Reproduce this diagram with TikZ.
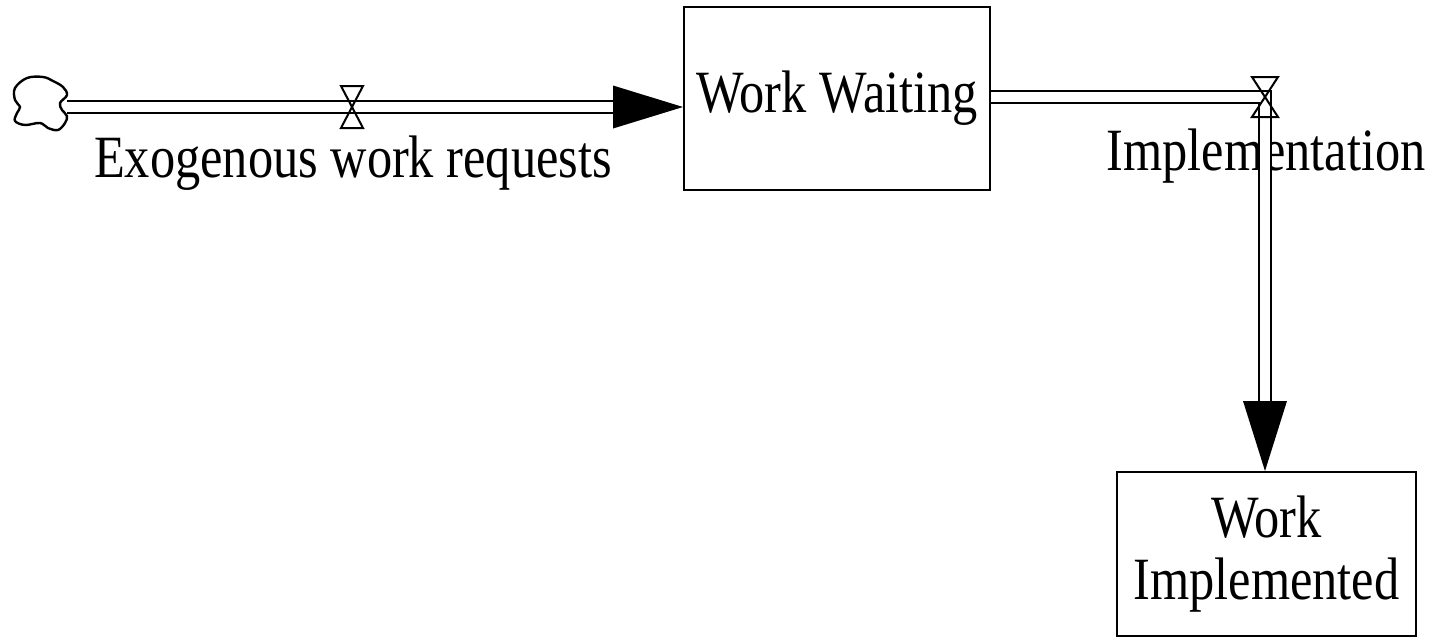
\documentclass[tikz,border=0pt]{standalone}
\usepackage{fontspec}
\setmainfont{Liberation Serif}
\newfontfamily\condserif[FakeStretch=0.84]{Liberation Serif}
\usetikzlibrary{calc}
\begin{document}
\begin{tikzpicture}[x=0.5pt,y=-0.5pt,line join=miter,
  every node/.style={font=\condserif\fontsize{30pt}{31pt}\selectfont},
  stock/.style={draw,line width=1pt,rectangle,inner sep=0pt,align=center},
  pipeline/.style={draw,line width=1pt,double,double distance=5pt},
  lbl/.style={inner sep=0pt,anchor=base},
  valve/.style={draw,line width=1pt},
  cloudline/.style={draw,line width=1.2pt}]
  \useasboundingbox (0,0) rectangle (1431,637);

  % stocks
  \node[stock,minimum width=153pt,minimum height=91.5pt] (ww) at (837,98.5) {Work Waiting};
  \node[stock,minimum width=149.5pt,minimum height=82pt] (wi) at (1266.5,554) {Work\\Implemented};

  % source cloud and valve positions
  \coordinate (src) at (67,107);
  \coordinate (v1) at (352,107);
  \coordinate (v2) at (1265,97);
  \coordinate (t1) at (ww.west |- src);
  \coordinate (t2) at (v2 |- wi.north);

  \draw[cloudline] plot[smooth cycle,tension=0.6] coordinates {
    (15,88) (27,78) (43,77) (53,81) (63,87) (67,95) (60,103)
    (62,110) (67,116) (65,123) (58,130) (48,128) (40,123)
    (25,125) (15,121) (17,113) (20,107) (15,100)};

  % flow labels
  \node[lbl] (lexo) at (353,177) {Exogenous work requests};
  \node[lbl] (limp) at (1266,170) {Implementation};

  % inflow pipe
  \draw[pipeline] (src) -- ([xshift=-35pt]t1);
  \fill (t1) -- ++(-70,-21.5) -- ++(0,43) -- cycle;

  % outflow pipe
  \draw[pipeline] (ww.east |- v2) -- (v2) -- ([yshift=35pt]t2);
  \fill (t2) -- ++(-22,-70) -- ++(44,0) -- cycle;

  % valves
  \draw[valve] ($(v1)+(-11,-21)$) -- ++(22,0) -- ($(v1)+(-11,21)$) -- ++(22,0) -- cycle;
  \draw[valve] ($(v2)+(-13,-20)$) -- ++(26,0) -- ($(v2)+(-13,20)$) -- ++(26,0) -- cycle;
\end{tikzpicture}
\end{document}
